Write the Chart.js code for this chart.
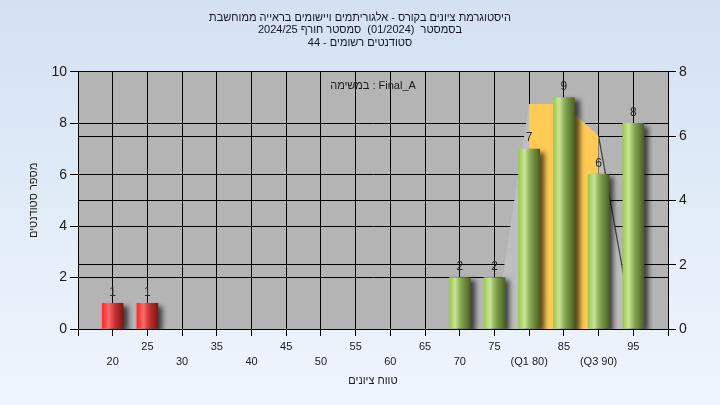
<!DOCTYPE html>
<html>
<head>
<meta charset="utf-8">
<script src="https://cdn.jsdelivr.net/npm/chart.js@4.4.1/dist/chart.umd.min.js"></script>
<style>
  html, body { margin: 0; padding: 0; background: #e2ecf8; }
  canvas { display: block; }
</style>
</head>
<body>
<canvas id="myChart" width="720" height="405"></canvas>
<script>
// chart texts
const titleLines = [
  'היסטוגרמת ציונים בקורס - אלגוריתמים ויישומים בראייה ממוחשבת',
  'בסמסטר  (01/2024)  סמסטר חורף 2024/25',
  'סטודנטים רשומים - 44'
];
const taskLabel = 'במשימה : Final_A';
const yTitle = 'מספר סטודנטים';
const xTitle = 'טווח ציונים';

// histogram
const grades = [20, 25, 30, 35, 40, 45, 50, 55, 60, 65, 70, 75, 80, 85, 90, 95];
const counts = [1, 1, 0, 0, 0, 0, 0, 0, 0, 0, 2, 2, 7, 9, 6, 8];
const passGrade = 55;
const tickNames = { 80: '(Q1 80)', 90: '(Q3 90)' };

// distribution curve (right axis) and quartiles
const curveX = [75, 80, 85, 90, 95];
const curveY = [0, 7, 7, 6, 0];
const q1 = 80;
const q3 = 90;

const FONT = '"Liberation Sans", Arial, sans-serif';

const barData = grades.map((g, i) => ({ x: g, y: counts[i] })).filter(p => p.y > 0);
const curveData = curveX.map((x, i) => ({ x: x, y: curveY[i] }));
const quartData = curveData.filter(p => p.x >= q1 && p.x <= q3);

function barGradient(ctx) {
  const chart = ctx.chart;
  const pass = ctx.raw && ctx.raw.x > passGrade;
  if (!chart.chartArea || ctx.type !== 'data') return pass ? '#8fb84a' : '#e02020';
  const x = chart.scales.x.getPixelForValue(ctx.raw.x);
  const g = chart.ctx.createLinearGradient(x - 10.5, 0, x + 10.5, 0);
  if (pass) {
    g.addColorStop(0, '#9cc94c');
    g.addColorStop(0.28, '#c9e495');
    g.addColorStop(0.55, '#86a851');
    g.addColorStop(1, '#4a6324');
  } else {
    g.addColorStop(0, '#ff2424');
    g.addColorStop(0.3, '#ff6a6a');
    g.addColorStop(0.6, '#c83030');
    g.addColorStop(1, '#7e1616');
  }
  return g;
}

const backdrop = {
  id: 'backdrop',
  beforeDraw(chart) {
    const { ctx, width, height, chartArea: a } = chart;
    ctx.save();
    const bg = ctx.createLinearGradient(0, 0, 0, height);
    bg.addColorStop(0, '#d3e1f3');
    bg.addColorStop(1, '#eff5fd');
    ctx.fillStyle = bg;
    ctx.fillRect(0, 0, width, height);
    ctx.fillStyle = '#b4b4b4';
    ctx.fillRect(a.left, a.top, a.right - a.left, a.bottom - a.top);
    ctx.restore();
  }
};

const barShadow = {
  id: 'barShadow',
  beforeDatasetDraw(chart, args) {
    if (args.index !== 0) return;
    const ctx = chart.ctx;
    ctx.save();
    ctx.shadowColor = 'rgba(0,0,0,0.65)';
    ctx.shadowOffsetX = 5;
    ctx.shadowOffsetY = 3;
    ctx.shadowBlur = 5;
  },
  afterDatasetDraw(chart, args) {
    if (args.index !== 0) return;
    chart.ctx.restore();
  }
};

const valueLabels = {
  id: 'valueLabels',
  afterDatasetsDraw(chart) {
    const ctx = chart.ctx;
    const meta = chart.getDatasetMeta(0);
    ctx.save();
    ctx.font = '12px ' + FONT;
    ctx.fillStyle = '#2a2a2a';
    ctx.textAlign = 'center';
    ctx.textBaseline = 'middle';
    meta.data.forEach((el, i) => {
      ctx.fillText(String(barData[i].y), el.x, el.y - 11);
    });
    const a = chart.chartArea;
    ctx.font = '11px ' + FONT;
    ctx.fillStyle = '#1a1a1a';
    ctx.fillText(taskLabel, (a.left + a.right) / 2, a.top + 14);
    ctx.restore();
  }
};

const ctx = document.getElementById('myChart').getContext('2d');
const myChart = new Chart(ctx, {
  type: 'bar',
  data: {
    datasets: [
      {
        type: 'bar',
        label: 'counts',
        data: barData,
        yAxisID: 'y',
        backgroundColor: barGradient,
        barThickness: 21,
        borderWidth: 0,
        order: 0
      },
      {
        type: 'line',
        label: 'quartiles',
        data: quartData,
        yAxisID: 'y1',
        backgroundColor: '#ffcb55',
        borderWidth: 0,
        pointRadius: 0,
        tension: 0,
        fill: 'origin',
        order: 1
      },
      {
        type: 'line',
        label: 'curve',
        data: curveData,
        yAxisID: 'y1',
        backgroundColor: '#bebebe',
        borderWidth: 1.2,
        borderColor: '#444',
        segment: {
          borderColor: c => c.p0.parsed.x >= q3 ? '#3c3c3c' : 'rgba(0,0,0,0)'
        },
        pointRadius: 0,
        tension: 0,
        fill: 'origin',
        order: 2
      }
    ]
  },
  options: {
    responsive: false,
    animation: false,
    layout: { padding: 0 },
    plugins: {
      legend: { display: false },
      tooltip: { enabled: false },
      title: {
        display: true,
        text: titleLines,
        color: '#141428',
        font: { family: FONT, size: 11, weight: 'normal', lineHeight: 1.14 },
        padding: { top: 11.5, bottom: 22.7 }
      }
    },
    scales: {
      x: {
        type: 'linear',
        min: 15,
        max: 100,
        offset: false,
        afterFit: s => { s.height = 76; },
        ticks: {
          stepSize: 5,
          autoSkip: false,
          maxRotation: 0,
          color: '#1a1a1a',
          padding: 3,
          font: { family: FONT, size: 11, lineHeight: 1.4 },
          callback: v => {
            if (v < grades[0] || v > grades[grades.length - 1]) return '';
            const label = tickNames[v] || String(v);
            return v % 10 === 0 ? ['', label] : label;
          }
        },
        grid: { color: '#000', lineWidth: 1, tickLength: 7, offset: false },
        border: { color: '#000' },
        title: {
          display: true,
          text: xTitle,
          color: '#1a1a1a',
          font: { family: FONT, size: 11 },
          padding: { top: 0, bottom: 17 }
        }
      },
      y: {
        position: 'left',
        min: 0,
        max: 10,
        afterFit: s => { s.width = 78; },
        ticks: {
          stepSize: 2,
          color: '#1a1a1a',
          padding: 3,
          font: { family: FONT, size: 14 }
        },
        grid: { color: '#000', lineWidth: 1, tickLength: 8 },
        border: { color: '#000' },
        title: {
          display: true,
          text: yTitle,
          color: '#1a1a1a',
          font: { family: FONT, size: 11 },
          padding: { top: 27, bottom: 0 }
        }
      },
      y1: {
        position: 'right',
        min: 0,
        max: 8,
        afterFit: s => { s.width = 52; },
        ticks: {
          stepSize: 2,
          color: '#1a1a1a',
          padding: 3,
          font: { family: FONT, size: 14 }
        },
        grid: { color: '#000', lineWidth: 1, tickLength: 8 },
        border: { color: '#000' }
      }
    }
  },
  plugins: [backdrop, barShadow, valueLabels]
});
</script>
</body>
</html>
